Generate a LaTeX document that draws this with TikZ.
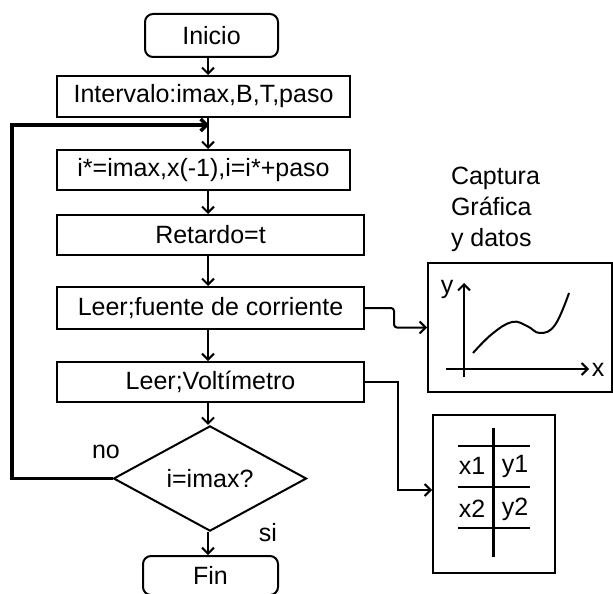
\documentclass[tikz,border=0pt]{standalone}
\usepackage{fontspec}
\setmainfont{Liberation Sans}
\usetikzlibrary{shapes.geometric,arrows.meta}
\begin{document}
\begin{tikzpicture}[x=1pt,y=-1pt,
  font=\fontsize{25}{31}\selectfont,
  line width=2pt,
  box/.style={draw, line width=2pt, inner sep=0pt, minimum height=40pt},
  term/.style={box, rounded corners=8pt},
  arr/.style={-{Straight Barb[length=6pt,width=12pt]}},
  loopline/.style={line width=3.5pt},
  lbl/.style={inner sep=0pt}]
\useasboundingbox (0,0) rectangle (613,594);
% flowchart
\node[term, minimum width=133pt, minimum height=43pt] (inicio) at (211.5,35.5) {Inicio};
\node[box, minimum width=293pt, minimum height=41pt] (interv) at (203.5,96.5) {Intervalo:imax,B,T,paso};
\node[box, minimum width=293pt] (istar) at (203.5,170) {i*=imax,x(-1),i=i*+paso};
\node[box, minimum width=307pt] (ret) at (210.5,235) {Retardo=t};
\node[box, minimum width=307pt, minimum height=42pt] (fuente) at (210.5,308) {Leer;fuente de corriente};
\node[box, minimum width=307pt] (volt) at (210.5,382) {Leer;Voltímetro};
\node[draw, diamond, line width=2pt, inner sep=0pt, minimum width=193pt, minimum height=93pt] (dec) at (210,478.5) {i=imax?};
\node[term, minimum width=135pt, minimum height=39pt] (fin) at (210.5,575.5) {Fin};
\coordinate (ax) at (208,0);
\coordinate (join) at (209,125);
\coordinate (lc) at (12,125);
\draw[arr] (inicio.south -| ax) -- (interv.north -| ax);
\draw[arr] (interv.south -| ax) -- (istar.north -| ax);
\draw[arr] (istar.south -| ax) -- (ret.north -| ax);
\draw[arr] (ret.south -| ax) -- (fuente.north -| ax);
\draw[arr] (fuente.south -| ax) -- (volt.north -| ax);
\draw[arr] (volt.south -| ax) -- (dec.north -| ax);
\draw[arr] (dec.south -| ax) -- (fin.north -| ax);
\draw[loopline, arr] (dec.west) -| (lc) -- (join);
\node[lbl] (no) at (106,452) {no};
\node[lbl] (si) at (268,533) {si};
% right side
\node[lbl, align=left, anchor=north west] (cap) at (450,166) {Captura\\Gráfica\\y datos};
\node[draw, line width=2pt, minimum width=184pt, minimum height=129pt, inner sep=0pt] (graph) at (520,327.5) {};
\draw[arr] (464,377) -- (464,283);
\draw[arr] (446,369) -- (589,369);
\node[lbl] (xl) at (598,370) {x};
\node[lbl] (yl) at (447,289) {y};
\draw[line width=2pt] plot[smooth, tension=0.7] coordinates {(473,353) (492,334) (512,322) (527,326) (540,333) (555,325) (569,293)};
\node[draw, line width=2pt, minimum width=122pt, minimum height=158pt, inner sep=0pt] (table) at (494,494) {};
\draw[line width=3pt] (493,428) -- (493,557);
\draw (458,446) -- (530,446);
\draw (458,487) -- (530,487);
\draw (458,528) -- (530,528);
\node[lbl] (x1) at (472,466) {x1};
\node[lbl] (y1) at (515,466) {y1};
\node[lbl] (x2) at (472,509) {x2};
\node[lbl] (y2) at (515,509) {y2};
\draw[arr, rounded corners=3pt] (fuente.east) -- ++(29,0) |- (graph.west);
\draw[arr] (volt.east) -- ++(33,0) |- ([yshift=4pt]table.west);
\end{tikzpicture}
\end{document}
